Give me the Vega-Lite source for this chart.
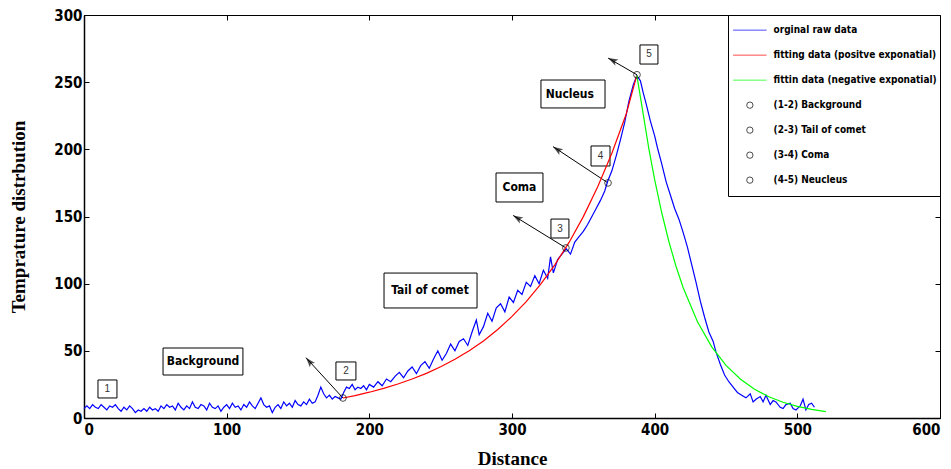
{
  "$schema": "https://vega.github.io/schema/vega-lite/v6.json",
  "width": 856,
  "height": 403,
  "autosize": {"type": "none"},
  "padding": {"left": 84, "top": 15, "right": 11, "bottom": 51},
  "background": "white",
  "config": {
    "view": {"stroke": "black", "strokeWidth": 1},
    "axis": {
      "grid": false,
      "labelFont": "DejaVu Sans Condensed, Liberation Sans Narrow, sans-serif",
      "labelFontWeight": "bold",
      "labelFontSize": 15,
      "labelColor": "black",
      "tickColor": "black",
      "domainColor": "black",
      "tickSize": -5,
      "tickWidth": 1,
      "titleFont": "Liberation Serif",
      "titleFontWeight": "bold",
      "titleFontSize": 19,
      "titleColor": "black"
    },
    "legend": {
      "orient": "top-right",
      "offset": 0,
      "padding": 3,
      "strokeColor": "black",
      "fillColor": "white",
      "labelFont": "DejaVu Sans Condensed, Liberation Sans Narrow, sans-serif",
      "labelFontWeight": "bold",
      "labelFontSize": 10,
      "labelColor": "black",
      "labelLimit": 400,
      "symbolSize": 40,
      "symbolStrokeWidth": 1,
      "symbolOffset": 13.85,
      "labelOffset": 18.7,
      "clipHeight": 24.3,
      "rowPadding": 0
    }
  },
  "datasets": {
    "raw": [
      {"x":0,"y":7},{"x":2,"y":9},{"x":4,"y":7},{"x":6,"y":10},{"x":8,"y":8},{"x":10,"y":7},{"x":12,"y":10},{"x":14,"y":8},{"x":16,"y":6},{"x":18,"y":9},
      {"x":20,"y":8},{"x":22,"y":10},{"x":24,"y":7},{"x":26,"y":5},{"x":28,"y":8},{"x":30,"y":6},{"x":32,"y":9},{"x":34,"y":7},{"x":36,"y":4},{"x":38,"y":6},
      {"x":40,"y":5},{"x":42,"y":7},{"x":44,"y":5},{"x":46,"y":8},{"x":48,"y":6},{"x":50,"y":7},{"x":52,"y":5},{"x":54,"y":9},{"x":56,"y":7},{"x":58,"y":10},
      {"x":60,"y":8},{"x":62,"y":9},{"x":64,"y":6},{"x":66,"y":11},{"x":68,"y":8},{"x":70,"y":6},{"x":72,"y":9},{"x":74,"y":7},{"x":76,"y":12},{"x":78,"y":8},
      {"x":80,"y":7},{"x":82,"y":10},{"x":84,"y":9},{"x":86,"y":6},{"x":88,"y":11},{"x":90,"y":8},{"x":92,"y":7},{"x":94,"y":9},{"x":96,"y":5},{"x":98,"y":8},
      {"x":100,"y":10},{"x":102,"y":7},{"x":104,"y":11},{"x":106,"y":8},{"x":108,"y":9},{"x":110,"y":6},{"x":112,"y":10},{"x":114,"y":8},{"x":116,"y":12},{"x":118,"y":9},
      {"x":120,"y":7},{"x":122,"y":11},{"x":124,"y":15},{"x":126,"y":10},{"x":128,"y":8},{"x":130,"y":9},{"x":132,"y":4},{"x":134,"y":8},{"x":136,"y":10},{"x":138,"y":7},
      {"x":140,"y":12},{"x":142,"y":9},{"x":144,"y":11},{"x":146,"y":8},{"x":148,"y":13},{"x":150,"y":10},{"x":152,"y":9},{"x":154,"y":12},{"x":156,"y":10},{"x":158,"y":14},
      {"x":160,"y":11},{"x":162,"y":12},{"x":164,"y":17},{"x":166,"y":23},{"x":168,"y":18},{"x":170,"y":15},{"x":172,"y":17},{"x":174,"y":14},{"x":176,"y":16},{"x":178,"y":15},
      {"x":180,"y":14},{"x":182,"y":19},{"x":184,"y":23},{"x":186,"y":22},{"x":188,"y":25},{"x":190,"y":21},{"x":192,"y":23},{"x":194,"y":22},{"x":196,"y":24},{"x":198,"y":21},
      {"x":200,"y":25},{"x":203,"y":23},{"x":206,"y":27},{"x":209,"y":24},{"x":212,"y":29},{"x":215,"y":27},{"x":218,"y":31},{"x":221,"y":34},{"x":224,"y":30},{"x":227,"y":35},
      {"x":230,"y":38},{"x":233,"y":33},{"x":236,"y":39},{"x":239,"y":42},{"x":242,"y":37},{"x":245,"y":44},{"x":248,"y":50},{"x":251,"y":43},{"x":254,"y":48},{"x":257,"y":55},
      {"x":260,"y":50},{"x":263,"y":57},{"x":266,"y":59},{"x":269,"y":54},{"x":272,"y":64},{"x":275,"y":73},{"x":277,"y":62},{"x":280,"y":68},{"x":283,"y":78},{"x":286,"y":72},
      {"x":289,"y":82},{"x":292,"y":85},{"x":295,"y":79},{"x":298,"y":90},{"x":301,"y":86},{"x":304,"y":95},{"x":307,"y":92},{"x":310,"y":101},{"x":313,"y":98},{"x":316,"y":106},
      {"x":319,"y":100},{"x":322,"y":110},{"x":325,"y":104},{"x":327,"y":120},{"x":329,"y":108},{"x":332,"y":118},{"x":335,"y":122},{"x":338,"y":126},{"x":341,"y":122},{"x":344,"y":131},
      {"x":347,"y":135},{"x":350,"y":139},{"x":353,"y":144},{"x":356,"y":150},{"x":359,"y":156},{"x":362,"y":162},{"x":365,"y":169},{"x":367,"y":176},{"x":370,"y":184},{"x":373,"y":195},
      {"x":376,"y":207},{"x":379,"y":220},{"x":382,"y":236},{"x":385,"y":248},{"x":387.5,"y":255},{"x":390,"y":251},{"x":392,"y":242},{"x":394,"y":234},{"x":397,"y":221},{"x":400,"y":210},
      {"x":402,"y":201},{"x":405,"y":189},{"x":408,"y":176},{"x":411,"y":166},{"x":414,"y":156},{"x":417,"y":148},{"x":420,"y":138},{"x":423,"y":127},{"x":426,"y":114},{"x":429,"y":101},
      {"x":432,"y":87},{"x":435,"y":75},{"x":438,"y":64},{"x":441,"y":57},{"x":443,"y":49},{"x":446,"y":40},{"x":449,"y":32},{"x":452,"y":27},{"x":455,"y":23},{"x":458,"y":19},
      {"x":461,"y":17},{"x":464,"y":15},{"x":467,"y":18},{"x":469,"y":12},{"x":471,"y":14},{"x":474,"y":16},{"x":476,"y":12},{"x":478,"y":17},{"x":481,"y":10},{"x":483,"y":13},
      {"x":485,"y":12},{"x":488,"y":8},{"x":490,"y":7},{"x":492,"y":10},{"x":495,"y":11},{"x":497,"y":7},{"x":499,"y":6},{"x":502,"y":9},{"x":504,"y":14},{"x":506,"y":6},
      {"x":508,"y":10},{"x":510,"y":11},{"x":512,"y":8}
    ],
    "fitpos": [
      {"x":181.5,"y":14.9},{"x":190,"y":16.7},{"x":200,"y":19.2},{"x":210,"y":22.0},{"x":220,"y":25.3},{"x":230,"y":29.0},{"x":240,"y":33.2},{"x":250,"y":38.1},
      {"x":260,"y":43.7},{"x":270,"y":50.1},{"x":280,"y":57.4},{"x":290,"y":65.9},{"x":300,"y":75.6},{"x":310,"y":86.6},{"x":320,"y":99.4},{"x":330,"y":114.0},
      {"x":340,"y":130.7},{"x":350,"y":149.9},{"x":360,"y":171.9},{"x":370,"y":197.1},{"x":380,"y":226.1},{"x":387.5,"y":255}
    ],
    "fitneg": [
      {"x":387.5,"y":255},{"x":392,"y":226},{"x":396,"y":200},{"x":400,"y":177.5},{"x":405,"y":152.6},{"x":410,"y":131.2},{"x":415,"y":112.8},{"x":420,"y":97},
      {"x":430,"y":71.7},{"x":440,"y":53},{"x":450,"y":39.2},{"x":460,"y":29},{"x":470,"y":21.4},{"x":480,"y":15.8},{"x":490,"y":11.7},{"x":500,"y":8.7},
      {"x":510,"y":6.4},{"x":520,"y":4.7}
    ],
    "circles": [
      {"x":181.5,"y":14.9,"seg":"(1-2) Background"},
      {"x":337.8,"y":126.6,"seg":"(2-3) Tail of comet"},
      {"x":367.3,"y":175,"seg":"(3-4) Coma"},
      {"x":387.6,"y":255.5,"seg":"(4-5) Neucleus"}
    ],
    "boxes": [
      {"x1":55.4,"x2":111.4,"y1":32.0,"y2":52.1,"tx":83.4,"ty":42.2,"t":"Background","k":"label"},
      {"x1":210.3,"x2":275.5,"y1":81.9,"y2":107.9,"tx":242.5,"ty":95.0,"t":"Tail of comet","k":"label"},
      {"x1":288.8,"x2":321.7,"y1":160.8,"y2":182.4,"tx":305.2,"ty":171.6,"t":"Coma","k":"label"},
      {"x1":320.3,"x2":365.2,"y1":230.8,"y2":251.6,"tx":340.5,"ty":241.2,"t":"Nucleus","k":"label"},
      {"x1":9.8,"x2":23.1,"y1":14.9,"y2":28.3,"tx":16.4,"ty":21.6,"t":"1","k":"num"},
      {"x1":176.6,"x2":190.6,"y1":28.3,"y2":41.7,"tx":183.6,"ty":35.0,"t":"2","k":"num"},
      {"x1":327.3,"x2":339.9,"y1":134.0,"y2":148.1,"tx":333.6,"ty":141.0,"t":"3","k":"num"},
      {"x1":355.4,"x2":368.7,"y1":187.6,"y2":202.5,"tx":362.0,"ty":195.0,"t":"4","k":"num"},
      {"x1":389.7,"x2":402.3,"y1":263.5,"y2":277.7,"tx":396.0,"ty":270.6,"t":"5","k":"num"}
    ],
    "arrows": [
      {"x1":181.5,"y1":14.9,"x2":155.6,"y2":44.9,"id":"2"},
      {"x1":337.8,"y1":126.6,"x2":300.8,"y2":150.8,"id":"3"},
      {"x1":367.3,"y1":175,"x2":328.8,"y2":202.0,"id":"4"},
      {"x1":387.6,"y1":255.5,"x2":367.4,"y2":267.9,"id":"5"}
    ]
  },
  "resolve": {"axis": {"x": "independent", "y": "independent"}},
  "layer": [
    {
      "data": {"name": "boxes"},
      "mark": {"type": "rect", "fill": "white", "stroke": "black", "strokeWidth": 1},
      "encoding": {
        "x": {"field": "x1", "type": "quantitative", "scale": {"domain": [0, 600], "nice": false},
              "axis": {"orient": "top", "labels": false, "title": null, "domain": false, "values": [0,100,200,300,400,500,600]}},
        "x2": {"field": "x2"},
        "y": {"field": "y1", "type": "quantitative", "scale": {"domain": [0, 300], "nice": false},
              "axis": {"orient": "right", "labels": false, "title": null, "domain": false, "values": [0,50,100,150,200,250,300]}},
        "y2": {"field": "y2"}
      }
    },
    {
      "data": {"name": "boxes"},
      "transform": [{"filter": {"field": "k", "equal": "label"}}],
      "mark": {"type": "text", "font": "DejaVu Sans Condensed, Liberation Sans Narrow, sans-serif", "fontWeight": "bold", "fontSize": 12, "color": "black", "align": "center", "baseline": "middle"},
      "encoding": {
        "x": {"field": "tx", "type": "quantitative", "scale": {"domain": [0, 600], "nice": false}, "axis": null},
        "y": {"field": "ty", "type": "quantitative", "scale": {"domain": [0, 300], "nice": false}, "axis": null},
        "text": {"field": "t"}
      }
    },
    {
      "data": {"name": "boxes"},
      "transform": [{"filter": {"field": "k", "equal": "num"}}],
      "mark": {"type": "text", "font": "Liberation Sans", "fontSize": 10, "color": "#333333", "align": "center", "baseline": "middle"},
      "encoding": {
        "x": {"field": "tx", "type": "quantitative", "scale": {"domain": [0, 600], "nice": false}, "axis": null},
        "y": {"field": "ty", "type": "quantitative", "scale": {"domain": [0, 300], "nice": false}, "axis": null},
        "text": {"field": "t"}
      }
    },
    {
      "data": {"name": "arrows"},
      "mark": {"type": "rule", "color": "black", "strokeWidth": 1},
      "encoding": {
        "x": {"field": "x1", "type": "quantitative", "scale": {"domain": [0, 600], "nice": false}, "axis": null},
        "y": {"field": "y1", "type": "quantitative", "scale": {"domain": [0, 300], "nice": false}, "axis": null},
        "x2": {"field": "x2"},
        "y2": {"field": "y2"}
      }
    },
    {
      "data": {"name": "arrows"},
      "transform": [{"filter": {"field": "id", "equal": "2"}}],
      "mark": {"type": "point", "shape": "M0,0L-0.45,1.3L0,1L0.45,1.3Z", "filled": true, "color": "black", "size": 230, "angle": 319},
      "encoding": {
        "x": {"field": "x2", "type": "quantitative", "scale": {"domain": [0, 600], "nice": false}, "axis": null},
        "y": {"field": "y2", "type": "quantitative", "scale": {"domain": [0, 300], "nice": false}, "axis": null}
      }
    },
    {
      "data": {"name": "arrows"},
      "transform": [{"filter": {"field": "id", "equal": "3"}}],
      "mark": {"type": "point", "shape": "M0,0L-0.45,1.3L0,1L0.45,1.3Z", "filled": true, "color": "black", "size": 230, "angle": 301},
      "encoding": {
        "x": {"field": "x2", "type": "quantitative", "scale": {"domain": [0, 600], "nice": false}, "axis": null},
        "y": {"field": "y2", "type": "quantitative", "scale": {"domain": [0, 300], "nice": false}, "axis": null}
      }
    },
    {
      "data": {"name": "arrows"},
      "transform": [{"filter": {"field": "id", "equal": "4"}}],
      "mark": {"type": "point", "shape": "M0,0L-0.45,1.3L0,1L0.45,1.3Z", "filled": true, "color": "black", "size": 230, "angle": 304},
      "encoding": {
        "x": {"field": "x2", "type": "quantitative", "scale": {"domain": [0, 600], "nice": false}, "axis": null},
        "y": {"field": "y2", "type": "quantitative", "scale": {"domain": [0, 300], "nice": false}, "axis": null}
      }
    },
    {
      "data": {"name": "arrows"},
      "transform": [{"filter": {"field": "id", "equal": "5"}}],
      "mark": {"type": "point", "shape": "M0,0L-0.45,1.3L0,1L0.45,1.3Z", "filled": true, "color": "black", "size": 230, "angle": 297},
      "encoding": {
        "x": {"field": "x2", "type": "quantitative", "scale": {"domain": [0, 600], "nice": false}, "axis": null},
        "y": {"field": "y2", "type": "quantitative", "scale": {"domain": [0, 300], "nice": false}, "axis": null}
      }
    },
    {
      "data": {"name": "raw"},
      "mark": {"type": "line", "strokeWidth": 1.2},
      "encoding": {
        "x": {"field": "x", "type": "quantitative", "scale": {"domain": [0, 600], "nice": false},
              "axis": {"orient": "bottom", "title": "Distance", "values": [0,100,200,300,400,500,600], "labelPadding": 9, "domainWidth": 1.5, "titleY": 40, "titleBaseline": "middle"}},
        "y": {"field": "y", "type": "quantitative", "scale": {"domain": [0, 300], "nice": false},
              "axis": {"orient": "left", "title": "Temprature  distrbution", "values": [0,50,100,150,200,250,300], "labelPadding": 7, "domainWidth": 1.5, "titleX": -66, "titleY": 201.5, "titleBaseline": "middle"}},
        "color": {"datum": "orginal raw data", "type": "nominal",
                  "scale": {"domain": ["orginal raw data", "fitting data (positve exponatial)", "fittin data (negative exponatial)", "(1-2) Background", "(2-3) Tail of comet", "(3-4) Coma", "(4-5) Neucleus"],
                            "range": ["#0000ff", "#ff0000", "#00ff00", "black", "black", "black", "black"]},
                  "legend": {"title": null}}
      }
    },
    {
      "data": {"name": "fitpos"},
      "mark": {"type": "line", "strokeWidth": 1.2},
      "encoding": {
        "x": {"field": "x", "type": "quantitative", "scale": {"domain": [0, 600], "nice": false}, "axis": null},
        "y": {"field": "y", "type": "quantitative", "scale": {"domain": [0, 300], "nice": false}, "axis": null},
        "color": {"datum": "fitting data (positve exponatial)", "type": "nominal", "legend": {"title": null}}
      }
    },
    {
      "data": {"name": "fitneg"},
      "mark": {"type": "line", "strokeWidth": 1.2},
      "encoding": {
        "x": {"field": "x", "type": "quantitative", "scale": {"domain": [0, 600], "nice": false}, "axis": null},
        "y": {"field": "y", "type": "quantitative", "scale": {"domain": [0, 300], "nice": false}, "axis": null},
        "color": {"datum": "fittin data (negative exponatial)", "type": "nominal", "legend": {"title": null}}
      }
    },
    {
      "data": {"name": "circles"},
      "mark": {"type": "point", "filled": false, "size": 45, "strokeWidth": 1},
      "encoding": {
        "x": {"field": "x", "type": "quantitative", "scale": {"domain": [0, 600], "nice": false}, "axis": null},
        "y": {"field": "y", "type": "quantitative", "scale": {"domain": [0, 300], "nice": false}, "axis": null},
        "color": {"field": "seg", "type": "nominal", "legend": {"title": null}},
        "shape": {"field": "seg", "type": "nominal",
                  "scale": {"domain": ["orginal raw data", "fitting data (positve exponatial)", "fittin data (negative exponatial)", "(1-2) Background", "(2-3) Tail of comet", "(3-4) Coma", "(4-5) Neucleus"],
                            "range": ["M-5.3,0H5.3", "M-5.3,0H5.3", "M-5.3,0H5.3", "circle", "circle", "circle", "circle"]},
                  "legend": {"title": null}}
      }
    }
  ]
}
